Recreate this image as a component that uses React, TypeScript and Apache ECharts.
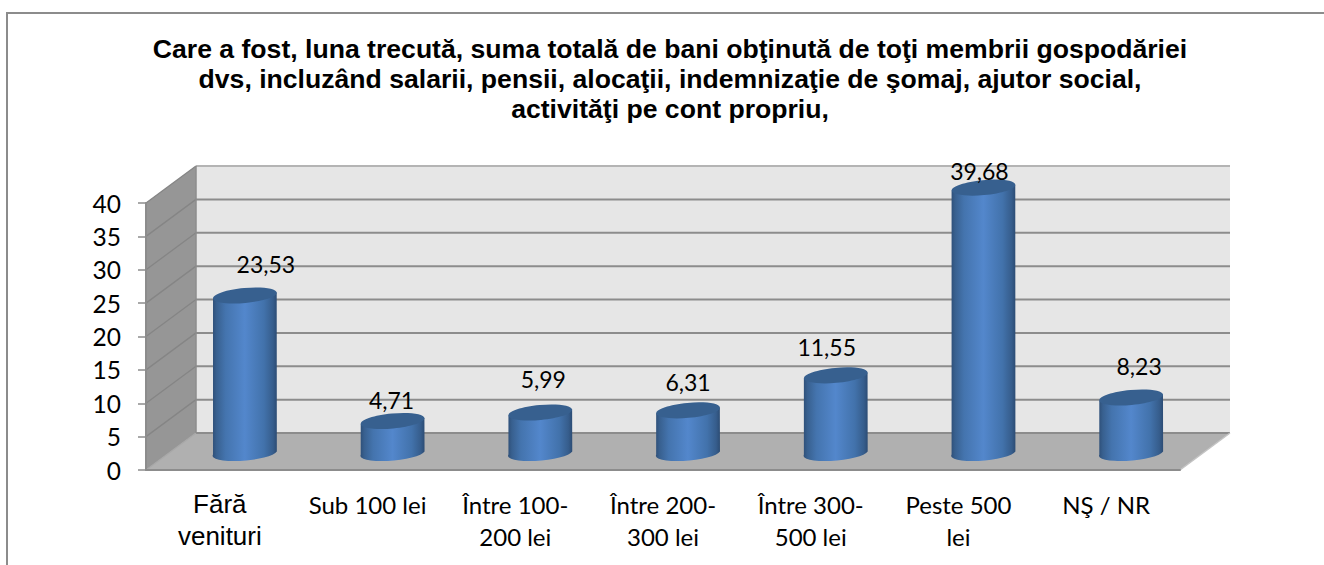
import React, { useEffect, useRef } from "react";
import * as echarts from "echarts";

const categories = ["Fără\nvenituri", "Sub 100 lei", "Între 100-\n200 lei", "Între 200-\n300 lei", "Între 300-\n500 lei", "Peste 500\nlei", "NŞ / NR"];
const values = [23.53, 4.71, 5.99, 6.31, 11.55, 39.68, 8.23];
const valueTexts = ["23,53", "4,71", "5,99", "6,31", "11,55", "39,68", "8,23"];
const ticks = [0, 5, 10, 15, 20, 25, 30, 35, 40];
const titleText = "Care a fost, luna trecută, suma totală de bani obţinută de toţi membrii gospodăriei\ndvs, incluzând salarii, pensii, alocaţii, indemnizaţie de şomaj, ajutor social,\nactivităţi pe cont propriu,";

// layout only
const DEPTH_X = 50;
const DEPTH_Y = -37;
const labelShift = [[21, -31], [-1, -21], [3, -34], [0, -28], [-9, -28], [-4, -17], [8, -32]];

const AXIS = "#8c8c8c";
const LABEL_FONT = "Lato";

function renderFrame(params: any, api: any) {
  const cs = params.coordSys;
  const x0 = cs.x;
  const x1 = cs.x + cs.width;
  const y0 = api.coord([0, 0])[1];
  const yTop = api.coord([0, 40])[1];
  const children: any[] = [
    { type: "polygon", shape: { points: [[x0 + DEPTH_X, yTop + DEPTH_Y], [x1 + DEPTH_X, yTop + DEPTH_Y], [x1 + DEPTH_X, y0 + DEPTH_Y], [x0 + DEPTH_X, y0 + DEPTH_Y]] }, style: { fill: "#e6e6e6" } },
    { type: "polygon", shape: { points: [[x0, y0], [x1, y0], [x1 + DEPTH_X, y0 + DEPTH_Y], [x0 + DEPTH_X, y0 + DEPTH_Y]] }, style: { fill: "#b0b0b0" } },
    { type: "polygon", shape: { points: [[x0, yTop], [x0 + DEPTH_X, yTop + DEPTH_Y], [x0 + DEPTH_X, y0 + DEPTH_Y], [x0, y0]] }, style: { fill: "#969696" } },
  ];
  ticks.forEach((t) => {
    const y = api.coord([0, t])[1];
    children.push({ type: "line", shape: { x1: x0 + DEPTH_X, y1: y + DEPTH_Y, x2: x1 + DEPTH_X, y2: y + DEPTH_Y }, style: { stroke: t === 40 ? "#b4b4b4" : AXIS, lineWidth: 2 } });
    children.push({ type: "line", shape: { x1: x0, y1: y, x2: x0 + DEPTH_X, y2: y + DEPTH_Y }, style: { stroke: t === 0 ? "#a8a8a8" : "#858585", lineWidth: 1.3 } });
  });
  children.push({ type: "line", shape: { x1: x0 + DEPTH_X, y1: yTop + DEPTH_Y, x2: x0 + DEPTH_X, y2: y0 + DEPTH_Y }, style: { stroke: AXIS, lineWidth: 1.5 } });
  children.push({ type: "line", shape: { x1: x1, y1: y0, x2: x1 + DEPTH_X, y2: y0 + DEPTH_Y }, style: { stroke: "#c4c4c4", lineWidth: 1.5 } });
  return { type: "group", children };
}

function renderCylinder(params: any, api: any) {
  const i = api.value(0);
  const top = api.coord([i, api.value(1)]);
  const base = api.coord([i, 0]);
  const band = api.size([1, 0])[0];
  const a = band * 0.2165;
  const b = 7.5;
  const deg = 5.3;
  const r = (deg * Math.PI) / 180;
  const cx = base[0] + DEPTH_X / 2;
  const yBase = base[1] + DEPTH_Y / 2;
  const yTop = top[1] + DEPTH_Y / 2 + 1;
  const dx = a * Math.cos(r);
  const dy = a * Math.sin(r);
  const bodyPath = `M${cx - dx} ${yTop + dy}L${cx - dx} ${yBase + dy}A${a} ${b} ${-deg} 0 0 ${cx + dx} ${yBase - dy}L${cx + dx} ${yTop - dy}Z`;
  const shift = labelShift[params.dataIndex];
  return {
    type: "group",
    children: [
      {
        type: "path",
        shape: { pathData: bodyPath },
        style: {
          fill: new echarts.graphic.LinearGradient(0, 0, 1, 0, [
            { offset: 0, color: "#2e4f78" },
            { offset: 0.06, color: "#38608f" },
            { offset: 0.2, color: "#4474ae" },
            { offset: 0.5, color: "#5387cc" },
            { offset: 0.8, color: "#4272ab" },
            { offset: 0.94, color: "#365d8c" },
            { offset: 1, color: "#2c4c74" },
          ]),
        },
      },
      {
        type: "ellipse",
        x: cx,
        y: yTop,
        rotation: r,
        shape: { cx: 0, cy: 0, rx: a, ry: b },
        style: { fill: "#37608f" },
      },
      {
        type: "text",
        z2: 10,
        style: {
          text: valueTexts[params.dataIndex],
          x: cx + shift[0],
          y: yTop + shift[1],
          align: "center",
          verticalAlign: "middle",
          fill: "#000",
          font: `23px ${LABEL_FONT}`,
        },
      },
    ],
  };
}

export default function App() {
  const ref = useRef<HTMLDivElement>(null);
  useEffect(() => {
    document.body.style.margin = "0";
    const chart = echarts.init(ref.current!, null, { renderer: "svg" });
    chart.setOption({
      animation: false,
      backgroundColor: "#fff",
      title: {
        text: titleText,
        left: 665,
        top: 29,
        textAlign: "center",
        textStyle: { fontFamily: "Liberation Sans", fontWeight: "bold", fontSize: 26.6, lineHeight: 30, color: "#000" },
      },
      graphic: [
        { type: "rect", z: -1, shape: { x: 7, y: 13, width: 1340, height: 580 }, style: { fill: "#fff", stroke: "#8c8c8c", lineWidth: 2 } },
      ],
      grid: { left: 146, right: 144, top: 203, bottom: 95, containLabel: false },
      xAxis: {
        type: "category",
        data: categories,
        z: 2,
        axisLine: { lineStyle: { color: AXIS, width: 2 } },
        axisTick: { length: 8, alignWithLabel: false, lineStyle: { color: AXIS, width: 1.5 } },
        axisLabel: {
          interval: 0,
          margin: 18,
          formatter: (v: string, i: number) =>
            v.split("\n").map((s) => `{${i === 0 ? "a" : "b"}|${s}}`).join("\n"),
          rich: {
            a: { fontFamily: "Liberation Sans", fontSize: 26, lineHeight: 32, color: "#000" },
            b: { fontFamily: LABEL_FONT, fontSize: 24, lineHeight: 32, color: "#000" },
          },
        },
      },
      yAxis: {
        type: "value",
        min: 0,
        max: 40,
        interval: 5,
        z: 2,
        splitLine: { show: false },
        axisLine: { show: true, lineStyle: { color: AXIS, width: 2 } },
        axisTick: { show: true, length: 8, lineStyle: { color: AXIS, width: 1.5 } },
        axisLabel: { margin: 25, fontFamily: LABEL_FONT, fontSize: 24.5, color: "#000" },
      },
      series: [
        { type: "custom", z: 1, silent: true, renderItem: renderFrame, data: [[0, 0]], encode: { x: 0, y: 1 } },
        { type: "custom", z: 3, renderItem: renderCylinder, data: values.map((v, i) => [i, v]), encode: { x: 0, y: 1 } },
      ],
    });
    return () => chart.dispose();
  }, []);
  return <div ref={ref} style={{ width: 1324, height: 565 }} />;
}
